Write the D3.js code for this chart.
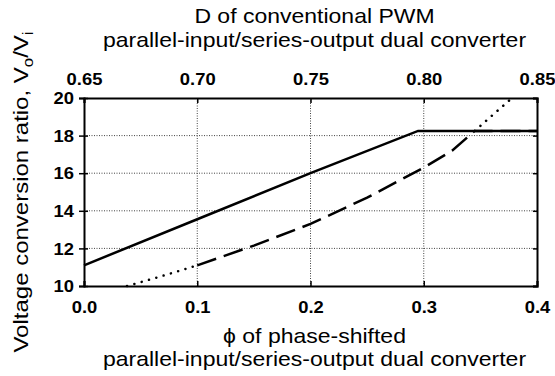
<!DOCTYPE html>
<html>
<head>
<meta charset="utf-8">
<script src="https://cdn.jsdelivr.net/npm/d3@7"></script>
<style>
  body { margin: 0; background: #fff; }
  text { font-family: "Liberation Sans", Arial, sans-serif; fill: #000; }
  .tick text { font-weight: bold; font-size: 16px; }
  .title { font-size: 20px; }
</style>
</head>
<body>
<script>
// phi of phase-shifted converter (bottom axis) vs ratio
const solidPhi = [0.0, 0.1, 0.2, 0.295, 0.4]
const solidRatio = [11.1, 13.55, 16.0, 18.25, 18.25]

const dashPhi = [0.1, 0.15, 0.2, 0.25, 0.3, 0.325, 0.345, 0.4]
const dashRatio = [11.1, 12.15, 13.3, 14.7, 16.3, 17.2, 18.25, 18.25]

const dotPhiLow = [0.038, 0.07, 0.1]
const dotRatioLow = [10.0, 10.55, 11.1]
const dotPhiHigh = [0.345, 0.36, 0.378]
const dotRatioHigh = [18.25, 19.05, 20.0]

const bottomTicks = [0.0, 0.1, 0.2, 0.3, 0.4]
const topTicks = [0.65, 0.70, 0.75, 0.80, 0.85]
const yTicks = [10, 12, 14, 16, 18, 20]

const W = 555, H = 376
const m = {left: 84, right: 18, top: 98, bottom: 90}
const stretch = 1.15 // glyphs in the picture are wider than Arial

let svg = d3.select("body").append("svg")
    .attr("width", W)
    .attr("height", H)

let x = d3.scaleLinear().domain([0, 0.4]).range([m.left, W - m.right])
let xTop = d3.scaleLinear().domain([0.65, 0.85]).range([m.left, W - m.right])
let y = d3.scaleLinear().domain([10, 20]).range([H - m.bottom, m.top])

// dotted grid
let grid = svg.append("g")
grid.selectAll("line.h")
    .data(yTicks.filter(v => v > 10 && v < 20))
    .enter().append("line")
    .attr("x1", m.left).attr("x2", W - m.right)
    .attr("y1", d => y(d)).attr("y2", d => y(d))
    .attr("stroke", "#444").attr("stroke-width", 1).attr("stroke-dasharray", "1,1.5")
grid.selectAll("line.v")
    .data(bottomTicks.filter(v => v > 0 && v < 0.4))
    .enter().append("line")
    .attr("y1", m.top).attr("y2", H - m.bottom)
    .attr("x1", d => x(d)).attr("x2", d => x(d))
    .attr("stroke", "#444").attr("stroke-width", 1).attr("stroke-dasharray", "1,1.5")

// axes
let bottomAxis = svg.append("g")
    .attr("transform", `translate(0,${H - m.bottom})`)
    .call(d3.axisBottom(x).tickValues(bottomTicks).tickFormat(d3.format(".1f")).tickSize(-5).tickPadding(0))
bottomAxis.selectAll(".tick text").attr("dy", null).attr("y", 27)

let topAxis = svg.append("g")
    .attr("transform", `translate(0,${m.top})`)
    .call(d3.axisTop(xTop).tickValues(topTicks).tickFormat(d3.format(".2f")).tickSize(-5).tickPadding(0))
topAxis.selectAll(".tick text").attr("dy", null).attr("y", -13)

let leftAxis = svg.append("g")
    .attr("transform", `translate(${m.left},0)`)
    .call(d3.axisLeft(y).tickValues(yTicks).tickSize(5).tickPadding(0))
leftAxis.selectAll(".tick line").attr("x1", 4)
leftAxis.selectAll(".tick text").attr("x", -10).attr("dy", "0.36em")

let rightAxis = svg.append("g")
    .attr("transform", `translate(${W - m.right},0)`)
    .call(d3.axisRight(y).tickValues(yTicks).tickSize(-4).tickFormat(""))

for (let ax of [bottomAxis, topAxis, leftAxis, rightAxis]) {
    ax.select(".domain").attr("stroke-width", 2)
    ax.selectAll(".tick line").attr("stroke-width", 1.5)
    ax.selectAll(".tick text").attr("transform", `scale(${stretch},1)`)
}
leftAxis.selectAll(".tick text").attr("x", -10 / stretch)

// curves
let line = d3.line().x(d => x(d[0])).y(d => y(d[1]))
let zip = (a, b) => a.map((v, i) => [v, b[i]])

svg.append("path").datum(zip(solidPhi, solidRatio))
    .attr("d", line).attr("fill", "none").attr("stroke", "#000").attr("stroke-width", 2.5)
svg.append("path").datum(zip(dashPhi, dashRatio))
    .attr("d", line).attr("fill", "none").attr("stroke", "#000")
    .attr("stroke-width", 2.5).attr("stroke-dasharray", "20,8")
for (let pts of [zip(dotPhiLow, dotRatioLow), zip(dotPhiHigh, dotRatioHigh)]) {
    svg.append("path").datum(pts)
        .attr("d", line.curve(d3.curveMonotoneX)).attr("fill", "none").attr("stroke", "#000")
        .attr("stroke-width", 2.5).attr("stroke-linecap", "round").attr("stroke-dasharray", "0.1,7.5")
}

// titles
let cx = (m.left + W - m.right) / 2 + 4
function title(txt, ty) {
    svg.append("text").attr("class", "title")
        .attr("transform", `translate(${cx},${ty}) scale(${stretch},1)`)
        .attr("text-anchor", "middle")
        .text(txt)
}
title("D of conventional PWM", 23)
title("parallel-input/series-output dual converter", 47)
title("\u03d5 of phase-shifted", 343)
title("parallel-input/series-output dual converter", 366)

let ylab = svg.append("text").attr("class", "title")
    .attr("transform", `translate(28,192) rotate(-90) scale(1.2,1)`)
    .attr("text-anchor", "middle")
ylab.append("tspan").text("Voltage conversion ratio,  V")
ylab.append("tspan").attr("dy", 5).attr("font-size", 14).text("o")
ylab.append("tspan").attr("dy", -5).text("/V")
ylab.append("tspan").attr("dy", 5).attr("font-size", 14).text("i")
</script>
</body>
</html>
